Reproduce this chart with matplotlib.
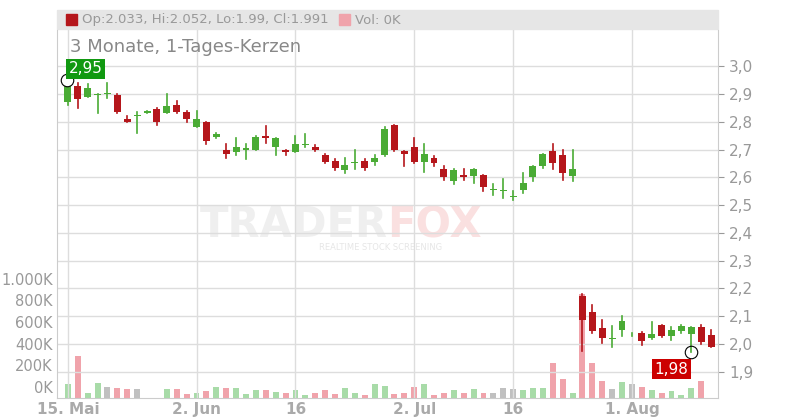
import matplotlib
matplotlib.use('Agg')
from matplotlib import pyplot
import matplotlib.transforms as mtransforms
import numpy as np

# daily candles, 15 May .. 9 Aug
opens = [2.87, 2.93, 2.89, 2.895, 2.90, 2.895, 2.81, 2.82, 2.83, 2.845, 2.83, 2.86, 2.835,
         2.78, 2.80, 2.745, 2.70, 2.69, 2.70, 2.70, 2.75, 2.71, 2.70, 2.69, 2.715, 2.71,
         2.68, 2.66, 2.625, 2.65, 2.66, 2.655, 2.68, 2.79, 2.695, 2.71, 2.655, 2.67, 2.63,
         2.585, 2.61, 2.605, 2.61, 2.555, 2.55, 2.53, 2.555, 2.60, 2.64, 2.695, 2.68, 2.605,
         2.173, 2.115, 2.058, 2.02, 2.05, 2.035, 2.04, 2.022, 2.068, 2.029, 2.047, 2.036,
         2.061, 2.033]
highs = [2.95, 2.94, 2.935, 2.90, 2.94, 2.90, 2.82, 2.835, 2.84, 2.85, 2.90, 2.875, 2.84,
         2.84, 2.80, 2.76, 2.72, 2.74, 2.72, 2.75, 2.785, 2.74, 2.70, 2.75, 2.755, 2.715,
         2.685, 2.665, 2.67, 2.70, 2.665, 2.68, 2.78, 2.79, 2.695, 2.74, 2.72, 2.675, 2.64,
         2.63, 2.63, 2.63, 2.61, 2.575, 2.595, 2.55, 2.615, 2.64, 2.685, 2.72, 2.70, 2.70,
         2.18, 2.14, 2.085, 2.065, 2.10, 2.04, 2.045, 2.08, 2.068, 2.06, 2.07, 2.06, 2.07,
         2.052]
lows = [2.86, 2.85, 2.89, 2.83, 2.885, 2.83, 2.80, 2.76, 2.83, 2.79, 2.83, 2.83, 2.80,
        2.78, 2.72, 2.74, 2.67, 2.68, 2.665, 2.70, 2.725, 2.68, 2.68, 2.69, 2.71, 2.695,
        2.65, 2.625, 2.615, 2.63, 2.625, 2.645, 2.675, 2.695, 2.64, 2.65, 2.62, 2.64, 2.59,
        2.575, 2.59, 2.58, 2.55, 2.535, 2.525, 2.52, 2.545, 2.585, 2.635, 2.63, 2.59, 2.585,
        1.975, 2.04, 2.005, 1.99, 2.03, 2.03, 1.995, 2.02, 2.025, 2.015, 2.04, 1.97, 2.00,
        1.99]
closes = [2.94, 2.88, 2.92, 2.90, 2.90, 2.835, 2.80, 2.82, 2.84, 2.80, 2.855, 2.835, 2.81,
          2.81, 2.73, 2.755, 2.685, 2.71, 2.705, 2.745, 2.74, 2.74, 2.69, 2.72, 2.72, 2.70,
          2.655, 2.635, 2.645, 2.655, 2.635, 2.67, 2.775, 2.70, 2.685, 2.655, 2.685, 2.65,
          2.60, 2.625, 2.60, 2.63, 2.565, 2.555, 2.55, 2.53, 2.58, 2.64, 2.685, 2.65, 2.615,
          2.63, 2.086, 2.047, 2.022, 2.02, 2.083, 2.035, 2.01, 2.036, 2.029, 2.05, 2.065,
          2.061, 2.007, 1.991]
volumes = [127, 390, 50, 135, 105, 95, 85, 85, 0, 0, 85, 85, 37, 50, 62, 105, 95, 95, 40,
           70, 70, 60, 50, 70, 30, 50, 72, 40, 95, 50, 30, 127, 115, 37, 50, 105, 127, 30,
           50, 72, 50, 80, 50, 50, 95, 85, 72, 95, 95, 325, 180, 50, 960, 325, 160, 85, 150,
           127, 105, 72, 50, 62, 30, 95, 160, 0]
tick_pos = [0, 13, 23, 35, 45, 57]
tick_labels = ['15. Mai', '2. Jun', '16', '2. Jul', '16', '1. Aug']
price_ticks = [1.9, 2.0, 2.1, 2.2, 2.3, 2.4, 2.5, 2.6, 2.7, 2.8, 2.9, 3.0]
vol_ticks = [0, 200, 400, 600, 800, 1000]

GREEN = '#4aab35'
RED = '#b5161b'
GRID = '#dddddd'
TXT = '#999999'

fig = pyplot.figure(figsize=(8, 4.2), dpi=100)
ax = fig.add_axes([57 / 800, 22 / 420, 661 / 800, 368 / 420])
vax = ax.twinx()
ax.set_zorder(2)
ax.patch.set_visible(False)

n = len(opens)
x = np.arange(n)
ax.set_xlim(-1.1, n - 0.3)
ax.set_ylim(1.806, 3.13)
vax.set_ylim(0, 3407)

# volume bars
vcols = []
for o, c in zip(opens, closes):
    vcols.append('#a8dba8' if c > o else ('#f0a3ab' if c < o else '#c0c0c0'))
vcols[57] = '#c0c0c0'
vax.bar(x, volumes, width=0.6, color=vcols, zorder=1)

# candles
for i in x:
    col = GREEN if closes[i] >= opens[i] else RED
    ax.plot([i, i], [lows[i], highs[i]], color=col, lw=1.2, zorder=3)
    lo, hi = min(opens[i], closes[i]), max(opens[i], closes[i])
    ax.bar(i, max(hi - lo, 0.003), bottom=lo, width=0.7, color=col, zorder=4)

ax.set_yticks(price_ticks)
ax.set_yticklabels([f'{t:.1f}'.replace('.', ',') for t in price_ticks])
ax.yaxis.tick_right()
ax.set_xticks(tick_pos)
ax.set_xticklabels(tick_labels)
ax.grid(True, color=GRID, lw=1)
ax.tick_params(colors=TXT, labelsize=11, length=0, pad=3)
ax.tick_params(axis='y', length=4, color='#999999', pad=4)
for lbl in ax.get_xticklabels():
    lbl.set_fontweight('bold')
    lbl.set_color('#aaaaaa')
for s in ax.spines.values():
    s.set_color('#cccccc')
ax.spines['top'].set_visible(False)

vax.yaxis.tick_left()
vax.set_yticks(vol_ticks)
vax.set_yticklabels(['0K', '200K', '400K', '600K', '800K', '1.000K'])
vax.tick_params(colors=TXT, labelsize=10.5, length=0, pad=3)
off = mtransforms.ScaledTranslation(0, 8 / 72, fig.dpi_scale_trans)
for lbl in vax.get_yticklabels():
    lbl.set_transform(lbl.get_transform() + off)
for s in vax.spines.values():
    s.set_visible(False)

# watermark
ax.text(0.5, 0.47, 'TRADER', transform=ax.transAxes, fontsize=30, fontweight='bold',
        color='#efefef', ha='right', va='center', zorder=0)
ax.text(0.5, 0.47, 'FOX', transform=ax.transAxes, fontsize=30, fontweight='bold',
        color='#fae0e0', ha='left', va='center', zorder=0)
ax.text(0.49, 0.41, 'REALTIME STOCK SCREENING', transform=ax.transAxes, fontsize=6,
        color='#e6e6e6', ha='center', va='center', zorder=0)

# title and header
fig.text(70 / 800, 1 - 47 / 420, '3 Monate, 1-Tages-Kerzen', fontsize=13, color='#888888',
         va='center')
fig.patches.append(pyplot.Rectangle((57 / 800, 1 - 29 / 420), 661 / 800, 19 / 420,
                                    transform=fig.transFigure, color='#e6e6e6', zorder=0))
fig.patches.append(pyplot.Rectangle((66 / 800, 1 - 25 / 420), 11 / 800, 11 / 420,
                                    transform=fig.transFigure, color=RED, zorder=1))
fig.text(82 / 800, 1 - 20 / 420,
         f'Op:{opens[-1]:.3f}, Hi:{highs[-1]:.3f}, Lo:{lows[-1]:.2f}, Cl:{closes[-1]:.3f}',
         fontsize=9.5, color='#999999', va='center')
fig.patches.append(pyplot.Rectangle((339 / 800, 1 - 25 / 420), 11 / 800, 11 / 420,
                                    transform=fig.transFigure, color='#f0a3ab', zorder=1))
fig.text(355 / 800, 1 - 20 / 420, f'Vol: {volumes[-1]}K', fontsize=9.5, color='#999999',
         va='center')

# high / low markers
ih = int(np.argmax(highs))
il = int(np.argmin(lows))
ax.plot(ih - 0.1, highs[ih], 'o', mfc='white', mec='black', ms=9, mew=0.8, zorder=5)
ax.text(ih + 0.1, highs[ih] + 0.04, f'{highs[ih]:.2f}'.replace('.', ','), color='white',
        fontsize=11, va='center', bbox=dict(fc='#119911', ec='none', pad=2), zorder=6)
ax.plot(il, lows[il], 'o', mfc='none', mec='black', ms=9, mew=0.8, zorder=5)
ax.text(il - 0.3, lows[il] - 0.06, f'{lows[il] + 0.01:.2f}'.replace('.', ','), color='white',
        fontsize=11, va='center', ha='right', bbox=dict(fc='#cc0000', ec='none', pad=2), zorder=6)

fig.savefig('out.png', dpi=100)
